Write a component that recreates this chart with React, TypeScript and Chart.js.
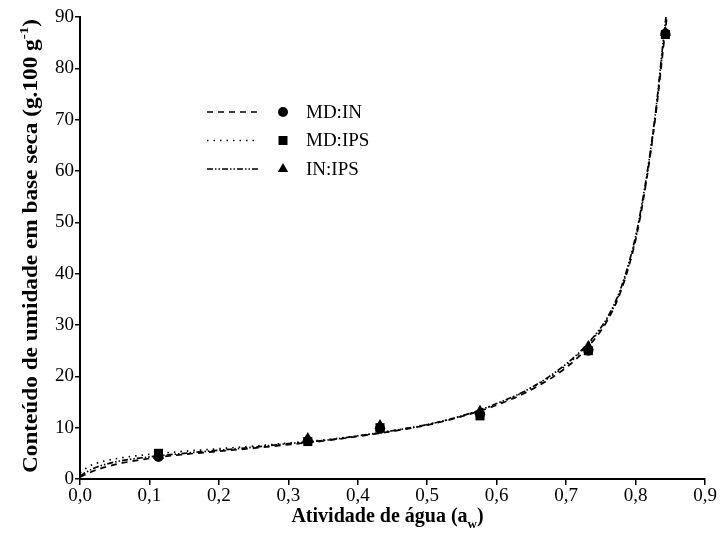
import React, { useEffect, useRef } from "react";
import { Chart, registerables } from "chart.js";

Chart.register(...registerables);

// Measured equilibrium moisture (g/100 g dry basis) at each water activity
const sampleAw = [0.113, 0.328, 0.432, 0.576, 0.732, 0.843];
const mdInPoints = [4.3, 7.4, 9.8, 12.6, 25.0, 86.8];
const mdIpsPoints = [5.0, 7.3, 10.0, 12.3, 25.0, 86.6];
const inIpsPoints = [4.6, 7.9, 10.4, 13.2, 25.8, 87.0];

// Fitted isotherm curves
const curveAw = [0, 0.01, 0.02, 0.05, 0.1, 0.15, 0.2, 0.25, 0.3, 0.35, 0.4, 0.45, 0.5, 0.55, 0.6, 0.65, 0.7, 0.73, 0.76, 0.78, 0.8, 0.81, 0.82, 0.83, 0.84, 0.846];
const mdInCurve = [0.4, 1.0, 1.6, 2.8, 4.0, 4.8, 5.4, 6.0, 6.7, 7.4, 8.3, 9.3, 10.5, 12.2, 14.4, 17.4, 21.7, 25.5, 31.0, 37.0, 46.5, 53.5, 62.0, 72.0, 84.0, 91.0];
const mdIpsCurve = [1.2, 2.2, 2.9, 3.9, 4.8, 5.4, 5.9, 6.4, 7.0, 7.6, 8.4, 9.4, 10.6, 12.3, 14.6, 17.7, 22.1, 26.0, 31.3, 37.3, 46.8, 53.8, 62.3, 72.5, 85.0, 92.0];
const inIpsCurve = [0.6, 1.4, 2.1, 3.3, 4.3, 5.0, 5.6, 6.2, 6.9, 7.5, 8.4, 9.4, 10.6, 12.3, 14.7, 17.8, 22.4, 26.2, 31.6, 37.6, 47.2, 54.2, 62.6, 72.8, 85.5, 92.5];

const seriesNames = ["MD:IN", "MD:IPS", "IN:IPS"];
const seriesDashes = [[6, 5], [1.5, 5], [6, 2, 1.5, 2, 1.5, 2]];
const seriesMarkers = ["circle", "rect", "triangle"];

const SERIF = "'Liberation Serif', 'Times New Roman', serif";

const toXY = (xs: number[], ys: number[]) => xs.map((x, i) => ({ x, y: ys[i] }));

function drawMarker(ctx: CanvasRenderingContext2D, style: string, x: number, y: number) {
  ctx.beginPath();
  if (style === "circle") {
    ctx.arc(x, y, 5, 0, Math.PI * 2);
  } else if (style === "rect") {
    ctx.rect(x - 4.5, y - 4.5, 9, 9);
  } else {
    const r = 6;
    ctx.moveTo(x, y - r);
    ctx.lineTo(x + r * 0.866, y + r * 0.5);
    ctx.lineTo(x - r * 0.866, y + r * 0.5);
    ctx.closePath();
  }
  ctx.fillStyle = "#000";
  ctx.fill();
}

// Legend: line sample, marker and name on each row
const legendPlugin = {
  id: "isothermLegend",
  afterDatasetsDraw(chart: any) {
    const ctx: CanvasRenderingContext2D = chart.ctx;
    const { left, top } = chart.chartArea;
    ctx.save();
    seriesNames.forEach((name, i) => {
      const y = top + 95 + i * 28.5;
      ctx.beginPath();
      ctx.setLineDash(seriesDashes[i]);
      ctx.lineWidth = 1.6;
      ctx.strokeStyle = "#000";
      ctx.moveTo(left + 127, y);
      ctx.lineTo(left + 178, y);
      ctx.stroke();
      ctx.setLineDash([]);
      drawMarker(ctx, seriesMarkers[i], left + 203, y);
      ctx.font = `19px ${SERIF}`;
      ctx.fillStyle = "#000";
      ctx.textAlign = "left";
      ctx.textBaseline = "middle";
      ctx.fillText(name, left + 226, y + 1);
    });
    ctx.restore();
  },
};

// Axis titles with sub/superscripts
const axisTitlePlugin = {
  id: "axisTitles",
  afterDraw(chart: any) {
    const ctx: CanvasRenderingContext2D = chart.ctx;
    const { left, right, top, bottom } = chart.chartArea;
    ctx.save();
    ctx.fillStyle = "#000";
    ctx.textBaseline = "alphabetic";

    // x title
    const big = `bold 20px ${SERIF}`;
    const small = `bold 13px ${SERIF}`;
    const xParts = [
      { t: "Atividade de água (a", f: big, dy: 0 },
      { t: "w", f: small, dy: 6 },
      { t: ")", f: big, dy: 0 },
    ];
    let w = 0;
    xParts.forEach((p) => { ctx.font = p.f; w += ctx.measureText(p.t).width; });
    let x = (left + right) / 2 - 5 - w / 2;
    const yb = bottom + 43;
    xParts.forEach((p) => {
      ctx.font = p.f;
      ctx.fillText(p.t, x, yb + p.dy);
      x += ctx.measureText(p.t).width;
    });

    // y title, rotated
    const yParts = [
      { t: "Conteúdo de umidade em base seca (g.100 g", f: big, dy: 0 },
      { t: "-1", f: small, dy: -9 },
      { t: ")", f: big, dy: 0 },
    ];
    let h = 0;
    yParts.forEach((p) => { ctx.font = p.f; h += ctx.measureText(p.t).width; });
    const target = bottom - top - 8;
    const sx = target / h;
    ctx.translate(37, (top + bottom) / 2 - 2);
    ctx.rotate(-Math.PI / 2);
    ctx.scale(sx, 1);
    let px = -h / 2;
    yParts.forEach((p) => {
      ctx.font = p.f;
      ctx.fillText(p.t, px, p.dy);
      px += ctx.measureText(p.t).width;
    });
    ctx.restore();
  },
};

export default function App() {
  const canvasRef = useRef<HTMLCanvasElement | null>(null);

  useEffect(() => {
    if (!canvasRef.current) return;
    const curves = [mdInCurve, mdIpsCurve, inIpsCurve];
    const points = [mdInPoints, mdIpsPoints, inIpsPoints];

    const lineSets = curves.map((c, i) => ({
      label: seriesNames[i] + " modelo",
      data: toXY(curveAw, c),
      showLine: true,
      borderColor: "#000",
      borderWidth: 1.7,
      borderDash: seriesDashes[i],
      pointRadius: 0,
      cubicInterpolationMode: "monotone" as const,
      order: 2,
    }));
    const pointSets = points.map((p, i) => ({
      label: seriesNames[i],
      data: toXY(sampleAw, p),
      showLine: false,
      pointStyle: seriesMarkers[i],
      pointRadius: i === 0 ? 5 : i === 1 ? 6.4 : 6.5,
      backgroundColor: "#000",
      borderColor: "#000",
      borderWidth: 0,
      order: 1,
    }));

    const tickFont = { family: SERIF, size: 19 };

    const chart = new Chart(canvasRef.current, {
      type: "scatter",
      data: { datasets: [...lineSets, ...pointSets] as any },
      options: {
        animation: false,
        responsive: true,
        maintainAspectRatio: false,
        layout: { padding: { left: 0, right: 15, top: 17, bottom: 0 } },
        plugins: {
          legend: { display: false },
          tooltip: { enabled: false },
        },
        scales: {
          x: {
            type: "linear",
            min: 0,
            max: 0.9,
            grid: { drawOnChartArea: false, drawTicks: true, tickLength: 6, color: "#000", lineWidth: 1.5 },
            border: { display: true, color: "#000", width: 2 },
            ticks: {
              stepSize: 0.1,
              color: "#000",
              font: tickFont,
              padding: 0,
              maxRotation: 0,
              callback: (v: any) => Number(v).toFixed(1).replace(".", ","),
            },
            afterFit: (s: any) => { s.height = 67; },
          },
          y: {
            type: "linear",
            min: 0,
            max: 90,
            grid: { drawOnChartArea: false, drawTicks: true, tickLength: 5, color: "#000", lineWidth: 1.5 },
            border: { display: true, color: "#000", width: 2 },
            ticks: {
              stepSize: 10,
              color: "#000",
              font: tickFont,
              padding: 1,
            },
            afterFit: (s: any) => { s.width = 80; },
          },
        },
      },
      plugins: [legendPlugin, axisTitlePlugin],
    });
    return () => chart.destroy();
  }, []);

  return (
    <div style={{ position: "fixed", left: 0, top: 0, width: 720, height: 546, background: "#fff" }}>
      <canvas ref={canvasRef} />
    </div>
  );
}
